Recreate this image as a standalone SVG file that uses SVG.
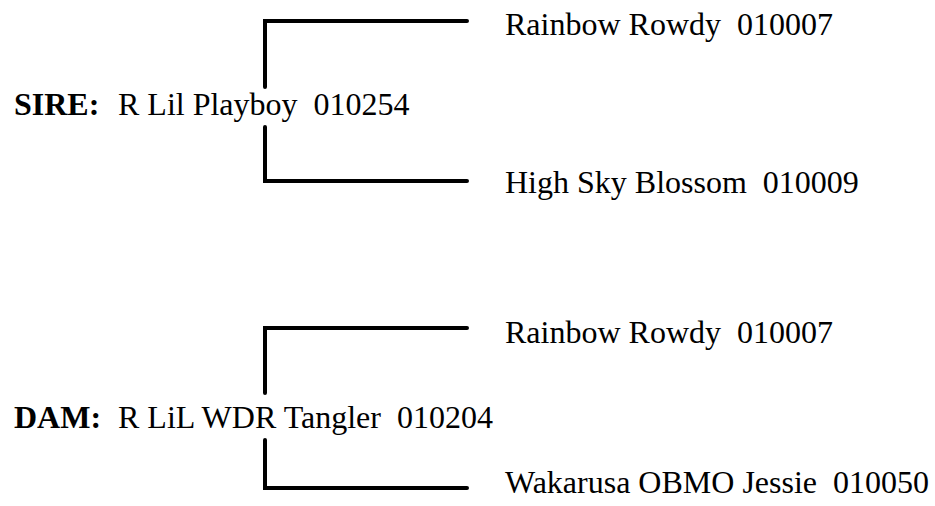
<svg xmlns="http://www.w3.org/2000/svg" width="935" height="506" viewBox="0 0 935 506">
<style>
.t{font-family:"Liberation Serif","Times New Roman",serif;font-size:32px;fill:#000;white-space:pre}
.b{font-weight:bold}
.c{fill:none;stroke:#000;stroke-width:4;stroke-linecap:round;stroke-linejoin:miter}
</style>
<rect width="935" height="506" fill="#fff"/>
<g id="connectors">
<path class="c" d="M265 87 V21 H467"/>
<path class="c" d="M265 127 V181 H467"/>
<path class="c" d="M265 393 V328 H467"/>
<path class="c" d="M265 440 V488 H467"/>
</g>
<g id="sire">
<text class="t b" x="14" y="115">SIRE:</text>
<text class="t" x="118" y="115">R Lil Playboy  010254</text>
</g>
<g id="sire-sire"><text class="t" x="505" y="35">Rainbow Rowdy  010007</text></g>
<g id="sire-dam"><text class="t" x="505" y="193">High Sky Blossom  010009</text></g>
<g id="dam">
<text class="t b" x="14" y="428">DAM:</text>
<text class="t" x="118" y="428">R LiL WDR Tangler  010204</text>
</g>
<g id="dam-sire"><text class="t" x="505" y="343">Rainbow Rowdy  010007</text></g>
<g id="dam-dam"><text class="t" x="505" y="493">Wakarusa OBMO Jessie  010050</text></g>
</svg>
